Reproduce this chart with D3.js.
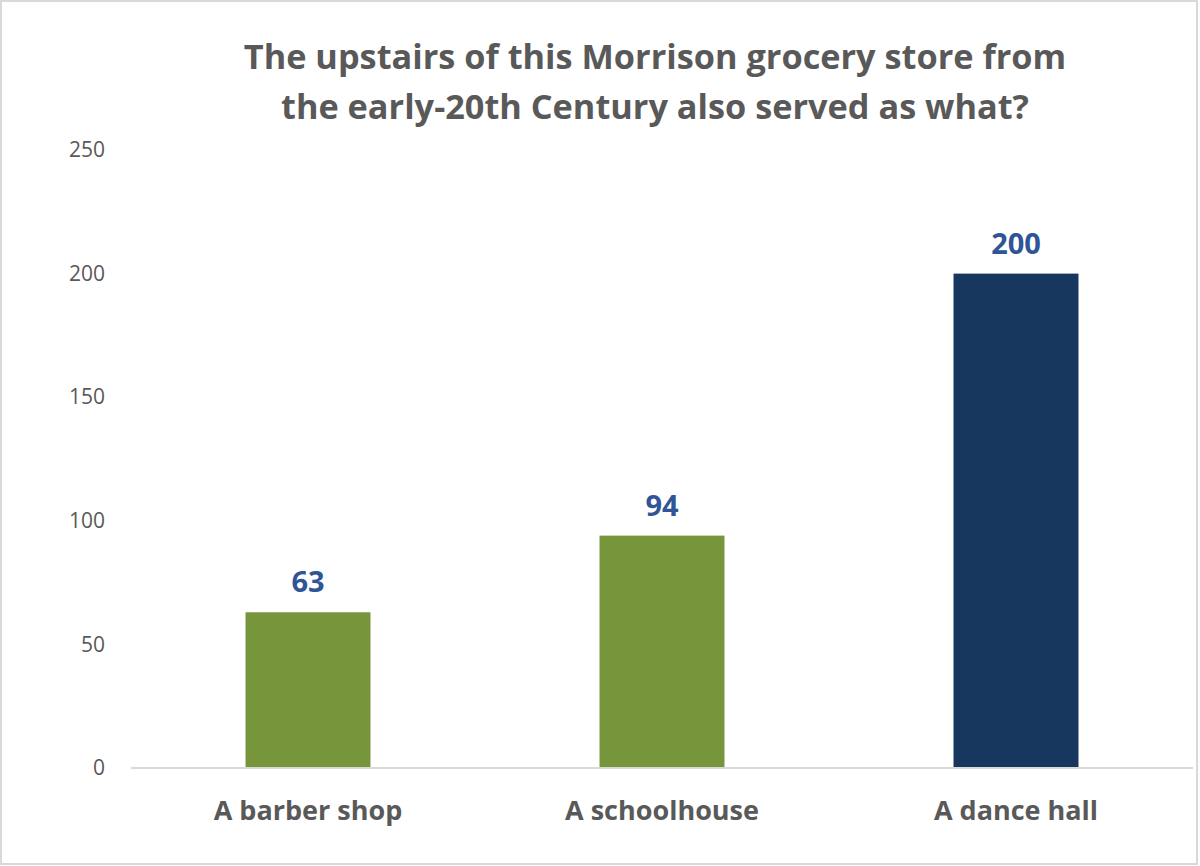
<!DOCTYPE html>
<html><head><meta charset="utf-8">
<script src="https://cdn.jsdelivr.net/npm/d3@7"></script>
<style>body{margin:0;background:#fff}svg{display:block}</style>
</head><body>
<script>
const categories = ["A barber shop", "A schoolhouse", "A dance hall"];
const values = [63, 94, 200];
const barColors = ["#77963C", "#77963C", "#17375E"];
const yTicks = [0, 50, 100, 150, 200, 250];
const titleLines = ["The upstairs of this Morrison grocery store from", "the early-20th Century also served as what?"];

(function () {
const W = 1200, H = 866;
const svg = d3.select("body").append("svg").attr("width", W).attr("height", H);
svg.append("rect").attr("x", 1).attr("y", 1).attr("width", W - 4).attr("height", H - 3)
  .attr("fill", "#fff").attr("stroke", "#d9d9d9").attr("stroke-width", 2);

const pl = 131, pr = 1193, pt = 150, pb = 768;
const x = d3.scaleBand().domain(categories).range([pl, pr]).paddingInner(0.647).paddingOuter(0.3235);
const y = d3.scaleLinear().domain([0, 250]).range([pb, pt]);

const font = "'Open Sans', sans-serif";

svg.append("g").selectAll("text").data(titleLines).join("text")
  .attr("x", 655).attr("y", (d, i) => 69 + i * 50)
  .attr("text-anchor", "middle").attr("font-family", font).attr("font-weight", 700)
  .attr("font-size", 34.3).attr("fill", "#595959").text(d => d);

const yAxis = d3.axisLeft(y).tickValues(yTicks).tickSize(0).tickPadding(0);
const gy = svg.append("g").attr("transform", `translate(105,0)`).call(yAxis);
gy.select(".domain").remove();
gy.selectAll("text").attr("font-family", font).attr("font-size", 21).attr("fill", "#595959");

svg.append("g").selectAll("rect").data(values).join("rect")
  .attr("x", (d, i) => x(categories[i])).attr("width", x.bandwidth())
  .attr("y", d => y(d)).attr("height", d => y(0) - y(d))
  .attr("fill", (d, i) => barColors[i]);

svg.append("line").attr("x1", pl).attr("x2", pr).attr("y1", y(0)).attr("y2", y(0))
  .attr("stroke", "#d9d9d9").attr("stroke-width", 2);

const xAxis = d3.axisBottom(x).tickSize(0).tickPadding(0);
const gx = svg.append("g").attr("transform", `translate(0,${pb + 52})`).call(xAxis);
gx.select(".domain").remove();
gx.selectAll("text").attr("dy", 0).attr("font-family", font).attr("font-weight", 700)
  .attr("font-size", 27).attr("fill", "#595959");

svg.append("g").selectAll("text").data(values).join("text")
  .attr("x", (d, i) => x(categories[i]) + x.bandwidth() / 2)
  .attr("y", d => y(d) - 20)
  .attr("text-anchor", "middle").attr("font-family", font).attr("font-weight", 700)
  .attr("font-size", 29).attr("fill", "#2F5597").text(d => d);
})();
</script>
</body></html>
